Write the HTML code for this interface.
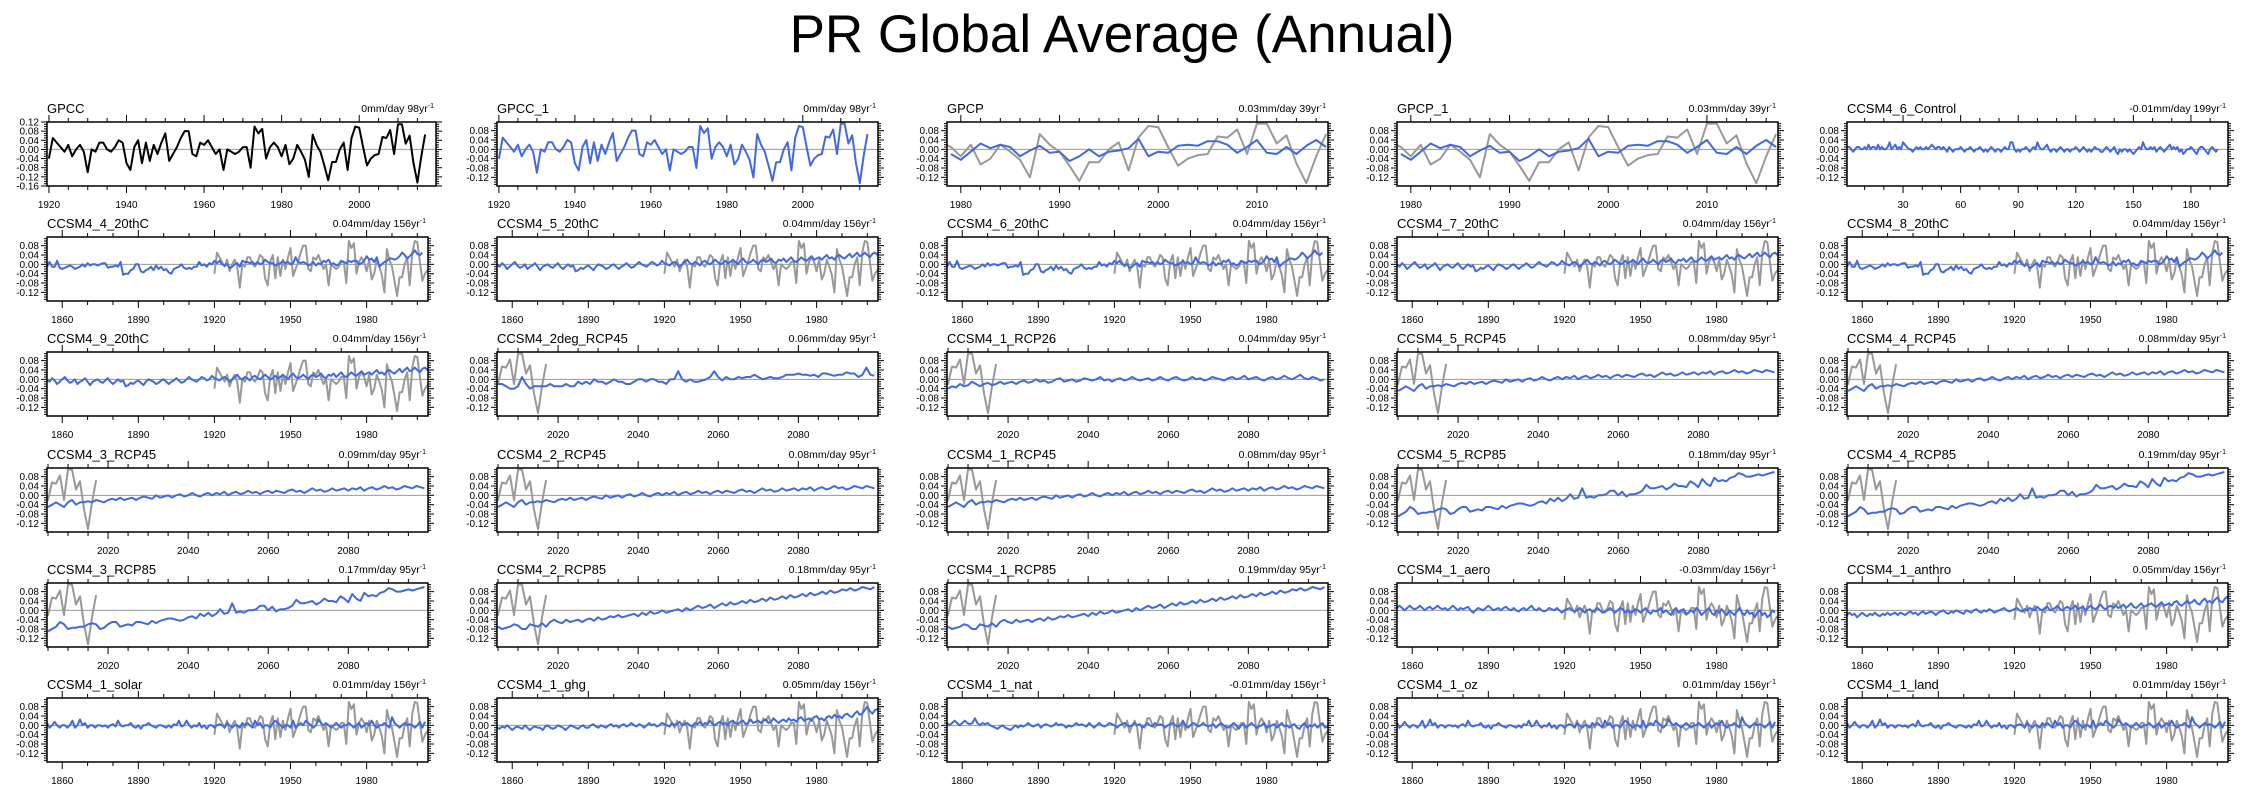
<!DOCTYPE html>
<html><head><meta charset="utf-8">
<style>
html,body{margin:0;padding:0;background:#fff;}
svg{display:block;font-family:"Liberation Sans",Arial,sans-serif;}
</style></head>
<body>
<svg id="chart" width="2245" height="793" viewBox="0 0 2245 793" xmlns="http://www.w3.org/2000/svg">
<text x="1122" y="52" text-anchor="middle" font-size="53" fill="#000">PR Global Average (Annual)</text>
</svg>
<script>
// ---- data (values in hundredths of mm/day) ----
const gpccObs = [-4,5,3,1,-1,2,-3,0,2,-1,-10,0,-1,3,3,0,-1,1,4,3,-6,-9,1,4,-6,3,-5,2,-2,3,7,-5,-2,1,5,8,8,-2,-3,3,2,4,1,-2,0,-9,0,-1,-2,-1,1,1,-8,10,7,9,-4,1,3,
1,-3,2,-6.5,-4,2,-1,-4.5,-12,6.5,2,-1,-7,-13.5,-5.5,-5.5,0,3,-9,5,10,9.5,1,-7,-4,-2.5,-2,5.5,5,8.5,-2,11,11,2.5,6,-6,-14.5,-3,6.5];
const gpcpBlue = [-2,-4.5,-1,2.5,0.5,2,1,-3,-0.5,1.5,-1.5,-1,-5,-3,0,-3,-1,-0.5,0.5,4.5,-3,-1,-1.5,1.5,2,1.5,3.5,3.5,2,-1.5,1,4,-1.5,-2,1,-2,1.5,4,1];
const t20a = [-1,1,-1,-1,1.5,-1.5,-2,-1.5,-1,-0.5,-1,-2,-1.5,-1,0,-1,0.5,-0.5,0,0,-0.5,0,0.5,0.5,-1.5,-1,-1,-0.5,-1,1,-4.5,-4,-4,-2.5,-2,0,0,-3,-3.5,-2.5,-2,-1,-2.5,-0.5,-2,-1,-2.5,-2,-3.5,-4,-2,-1.5,-1,0,-1.5,-2,-1.5,-2,-1,-1,1,-0.5,0,-1,0.5,0,1.5,0.5,1.5,0,-0.5,0,-1.5,-1,0,0.5,-1,1.5,1,1,0.5,1,0,1,0,0.5,2,1,0.5,0.5,-0.5,0,0.5,1.5,0.5,1,0,0.5,3,1,0.5,1,0.5,-0.5,0,1,-0.5,0.5,0,1.5,1,2,0,0.5,-0.5,0,1.5,1,0.5,1.5,1,1.5,1.5,0,0.5,1.5,3.5,2,2.5,1,3,-1,0,1,1.5,2.5,2.5,2,2.5,3.5,5,4,2.5,3.5,4.5,6,4.5,4,5];
const t20b = [0,-1,0.5,-0.5,-2,-1,0,1,-0.5,-1.5,-1,0,-2,-1,-0.5,0.5,-1,-2.5,-1,-0.5,0,-1,-1.5,-0.5,0.5,-1,-2,-1,0,-1,-0.5,-3,-2.5,-1.5,-2,-1,-0.5,-1.5,-2.5,-1,0,-0.5,-1,-2,-1.5,-0.5,0,-1,-2,-1,-0.5,0.5,-0.5,-1.5,-1,0,1,0,-0.5,-1,0,1,0.5,-0.5,0,1.5,0.5,0,-0.5,0.5,1,0,-1,0,1,2,0.5,0,1,0.5,-0.5,1,1.5,0.5,0,1,2,1,0,0.5,1.5,0.5,1,2,1,0,1.5,2.5,1,0.5,1,2,1,0,1.5,2,1,1.5,2.5,1,0.5,2,1.5,2.5,1,2,3,1.5,1,2,3,2,1.5,2.5,3.5,2,2.5,3,2,3,4,2.5,3,2,3.5,4,3,2.5,3.5,4.5,3,4,5,3.5,4,5,4,3,4.5,5,4];
const ctrl = [1,1,0,-1,0,1,1,0,0,1,0,2,0,1,1,0,2,0,1,0,0,1,3,0,1,2,0,1,0,3,2,1,0,0,-1,0,1,0,1,0,0,1,0,1,2,1,0,1,1,0,1,0,-1,1,0,-1,0,0,0,1,0,-1,0,0,1,0,-1,0,0,1,0,-1,0,-1,0,1,0,-1,0,0,-1,0,1,0,0,3,3,0,-1,0,-1,0,0,1,0,-1,0,1,0,3,1,0,0,1,2,0,-1,0,0,-1,0,1,0,-1,0,0,-1,0,0,1,0,-1,0,1,0,-1,0,-1,0,1,0,0,-1,-1,0,1,0,-1,0,1,-1,-2,0,-1,0,0,-1,0,-1,-2,-1,0,1,0,3,1,0,0,1,0,1,-1,0,1,0,-1,0,1,2,0,1,0,1,-1,0,-2,-1,0,0,1,0,-1,-2,0,1,1,0,-1,-2,0,1,0,-1,0];
const r26 = [-4,-3,-3.5,-2,-3,-2.5,-1,-2,-3,-2,-1.5,-2.5,-2,-1,-2,-1.5,-1,-2,-1,-0.5,-1.5,-1,0,-1,-0.5,-1.5,-1,0,0.5,-1,-0.5,0,-1,-0.5,0.5,0,-0.5,0,1,-0.5,0,-1,0,0.5,-0.5,0,1,0,-0.5,0,0.5,-0.5,0,1,0,-0.5,0.5,1,0,-0.5,0,1,0,0.5,-0.5,0,1,0.5,0,-0.5,0.5,1,0,0.5,1.5,0,0.5,1,0,-0.5,0.5,1,0,0.5,1.5,0.5,0,1,2,0.5,0,1,0.5,-0.5,0];
const r45a = [-2,-2,-3,-4,-4,-3,1,-2,-4,-3,-3,-3,-3,-2,-3,-3,-3,-2,-3,-3,-1,-2,-1,-2,0,-1,-1,-2,-1,0,-1,-1,-2,-2,-1,0,0,-1,0,0,-1,-1,-2,0,0,3.5,0,-1,0,-1,-1,-0.5,0,1,3.5,1,-0.5,1,0,0,1,0.5,1,1,2,1,0,0.5,1,0.5,0.5,1,2,2,2,2.5,2,2,1.5,2,1,2.5,2.5,2,1.5,2,2,3,2.5,2.5,1,2,5,2,1.5];
const r45b = [-5,-4,-3,-4,-5,-3,-2,-4,-3,-3,-2.5,-3,-2,-2.5,-3,-2,-1.5,-2,-1,-2,-1.5,-1,-2,-1,-0.5,-1,-1.5,0,-1,-0.5,0,-1,0,0.5,-0.5,0,1,0,-0.5,0.5,1,0,1,0.5,1.5,0,1,1.5,0.5,1,2,1,1.5,0.5,1.5,2,1,2,1.5,1,2,2.5,1.5,2,1,2,3,2,2.5,1.5,2,3,2,2.5,3,2,3,2.5,3.5,2,3,3.5,2.5,3,4,3,3.5,2.5,3,4,3.5,3,4,3.5,3];
const r85a = [-9,-8,-7,-5,-6,-8,-7.5,-7.5,-7,-7,-6,-5.5,-6,-8,-7.5,-6,-5,-5,-7,-6.5,-6,-6.5,-5,-5,-5.5,-6,-4.5,-5.5,-4.5,-4,-3.5,-3.5,-4,-4.5,-4,-3,-2.5,-3.5,-1.5,-2.5,-1,-2.5,-1.5,0.5,-1.5,-1,3,-1,-0.5,-1,0,0,0.5,2,2,0,1.5,-0.5,0.5,0.5,1,2,4.5,3,3,3.5,4,2.5,3.5,5,4,4,3.5,6,5,3.5,7,5,4,7.5,6,6.5,6,7.5,8,9.5,9,8,8,8.5,9,8.5,9,9.5,10];
const r85b = [-7,-8,-7.5,-7,-6,-6.5,-8,-8,-6,-6.5,-7,-5.5,-7,-5,-4,-5,-5.5,-4,-5,-4.5,-4,-5,-4,-3.5,-4.5,-3,-4,-3.5,-2.5,-3,-2,-3,-2.5,-2,-1.5,-2.5,-1,-2,-0.5,-1.5,-1,0,-1,-0.5,0,0.5,-0.5,1,0,1,2,1,1.5,2.5,1,2,3,2,3.5,2.5,3,4,3,4.5,3.5,4,5,4,5.5,4.5,5,6,5,6.5,5.5,6,7,6,7.5,6.5,7,8,7,8.5,7.5,8,9,8.5,9.5,8.5,9,10,9.5,9,10];
const aero = [1,2,1,0,1,2,1,0.5,1,2,1,0,1,1.5,0.5,1,2,1,0.5,1,0,1,2,1,0,1,0.5,1,1.5,0,-1,0,1,0.5,0,1,2,1,0,0.5,1,0,1,1.5,0.5,0,1,0,-0.5,0.5,1,0,1,2,0.5,0,1,0,-0.5,0,1,0.5,0,1,0,-1,0,0.5,1,0,-0.5,0,1,0,-1,0,0.5,-0.5,0,1,0,-1,-0.5,0,1,0,-1,0,1,0.5,-1,0,-1,-0.5,0.5,0,-1,0,1,-0.5,-1.5,0,-0.5,0,1,-1,0,-1,-2,0,1,-1,0,0.5,-1.5,-1,0,-1,1,0,-2,-1,0,1,-1,-2,0,-1,0.5,-1,-2,0,-1,-2,-0.5,1,-1,-2,0,-1.5,-1,-3,-1,0,-2,-1,-3,-2,0,-1];
const anthro = [-2,-1,-2,-1.5,-3,-2,-1,-2,-2.5,-1.5,-2,-1,-2,-2.5,-1.5,-2,-1,-2,-1.5,-1,-2,-1,-1.5,-2,-1,-0.5,-1.5,-1,-2,-1,-0.5,-1.5,-1,-0.5,-1,-2,-1,-0.5,0,-1,-1.5,-0.5,-1,0,-0.5,-1,-1.5,0,-0.5,-1,0,0.5,-0.5,-1,0,-0.5,0.5,0,-1,-0.5,0,0.5,1,0,-0.5,0,0.5,1,0,-0.5,0.5,0,1,0.5,0,1.5,0.5,0,1,1.5,0,0.5,1,2,0.5,0,1,1.5,0.5,1,2,0.5,1,1.5,0,1,2,1,0.5,1.5,2.5,1,0.5,1.5,2,1,2,1,1.5,2.5,1,2,3,1.5,1,2,3,1.5,2,2.5,3,2,1.5,2.5,3.5,2,2.5,3,2,3.5,4,2.5,2,3,4,3,3.5,4.5,3,2.5,4,5,3.5,4,3,4.5,5.5,4,3.5,5,6];
const solar = [1,-1,0,1.5,0,-1,0,0,-1,0,2,-1,0,2.5,0,1,-1,0,0,-1,0,0,-0.5,0,-1,0,0.5,-0.5,2,0,-0.5,0,0,1,-0.5,-1,0,-1.5,0,0,1,0,-0.5,-1,0,0,-0.5,-1,0,-1,0.5,0,2,-0.5,0,2,0,-1,0,-0.5,1,-1,0,-1.5,0,0,-1,0,0.5,0,-1,1,0,-1,0,0,-1,1,0,1,0,-1,2,0,1,-1,0,0,-1,1,2,1,0,-1,0,0,-1,2,-1,0,1,0,2,1,0,-1,0,2.5,1,0,1,0,-1,0,1,0,-1,0,0,1,0,-1,0,1,-1,0,1,0,2,0,-1,0,0,1,0,-1,3.5,1,0,-1,0,1,0,0.5,0,-1,0,1.5,-1,1.5];
const ghg = [-1,-1.5,-0.5,-1,0,-1,-2,-1,-0.5,-1,-1.5,0,-1,-2,-1,-0.5,-1,-1,-2,-0.5,0,-1,-1.5,-1,0,-0.5,-1,-2,-1,0,-0.5,-1,-1.5,-0.5,0,-1,-1,0,0.5,-0.5,-1,0,-0.5,-1,0,0.5,-0.5,0,-1,0,0.5,-0.5,0,1,0,-0.5,0.5,0,-1,0,1,0,0.5,-0.5,0,1,0.5,0,-0.5,1,0,0.5,1.5,0,0.5,1,0,-0.5,1,0.5,1.5,0,1,0.5,2,0.5,0,1,1.5,0.5,1,0,1.5,2,1,0.5,1.5,2,0.5,1,2.5,1,1.5,2,1,2,2.5,1,1.5,3,2,1,2,2.5,1.5,3,2,2.5,1.5,3,3.5,2,2.5,3,2,3.5,4,2.5,3,2,3.5,4,3,4.5,3.5,4,3,4.5,5,4,3.5,5,6,4.5,5,6.5,8,6,5,6.5,7];
const nat = [1,0,1,2,1,0,1,2,1,0.5,1,3,1,0,1,0.5,1,0,-0.5,-1,-1.5,-0.5,0,-1,-1.5,-2,-1,0,-1,0,-0.5,0,1,0,-0.5,0,0.5,-1,0,0.5,0,-0.5,0,1,0,0.5,0,-1,0,-0.5,0,1,0,0.5,0,-0.5,1,0,-1,0,1,0,-0.5,0,1,0.5,0,-1,0,0.5,1,0,-0.5,0,1,0,0.5,-1,0,1,0,-0.5,1,0,0.5,0,-1,0,0.5,1,0,-0.5,0,2,0,-1,0,1,0.5,-0.5,0,1,0,-0.5,0,0.5,-1,0,1,0,-0.5,-1,0,1,0,-1.5,0,0.5,-1,0,1,0,-1,-0.5,0,1,-1,-0.5,0,0.5,-1,0,1,-0.5,0,-1,0,0.5,-1,-1.5,0,1,-1,0,-0.5,0.5,-1,0,1,-1,-0.5];

const panelTitles = ["GPCC","GPCC_1","GPCP","GPCP_1","CCSM4_6_Control",
"CCSM4_4_20thC","CCSM4_5_20thC","CCSM4_6_20thC","CCSM4_7_20thC","CCSM4_8_20thC",
"CCSM4_9_20thC","CCSM4_2deg_RCP45","CCSM4_1_RCP26","CCSM4_5_RCP45","CCSM4_4_RCP45",
"CCSM4_3_RCP45","CCSM4_2_RCP45","CCSM4_1_RCP45","CCSM4_5_RCP85","CCSM4_4_RCP85",
"CCSM4_3_RCP85","CCSM4_2_RCP85","CCSM4_1_RCP85","CCSM4_1_aero","CCSM4_1_anthro",
"CCSM4_1_solar","CCSM4_1_ghg","CCSM4_1_nat","CCSM4_1_oz","CCSM4_1_land"];
const panelTrends = ["0mm/day 98yr","0mm/day 98yr","0.03mm/day 39yr","0.03mm/day 39yr","-0.01mm/day 199yr",
"0.04mm/day 156yr","0.04mm/day 156yr","0.04mm/day 156yr","0.04mm/day 156yr","0.04mm/day 156yr",
"0.04mm/day 156yr","0.06mm/day 95yr","0.04mm/day 95yr","0.08mm/day 95yr","0.08mm/day 95yr",
"0.09mm/day 95yr","0.08mm/day 95yr","0.08mm/day 95yr","0.18mm/day 95yr","0.19mm/day 95yr",
"0.17mm/day 95yr","0.18mm/day 95yr","0.19mm/day 95yr","-0.03mm/day 156yr","0.05mm/day 156yr",
"0.01mm/day 156yr","0.05mm/day 156yr","-0.01mm/day 156yr","0.01mm/day 156yr","0.01mm/day 156yr"];
const panelKinds = ["gpcc","gpcc1","gpcp","gpcp","ctrl",
"t20","t20","t20","t20","t20","t20","rcp","rcp","rcp","rcp","rcp","rcp","rcp","rcp","rcp",
"rcp","rcp","rcp","t20","t20","t20","t20","t20","t20","t20"];
const panelSeries = [null,gpccObs,gpcpBlue,gpcpBlue,ctrl,
t20a,t20b,t20a,t20b,t20a,t20b,r45a,r26,r45b,r45b,r45b,r45b,r45b,r85a,r85a,
r85a,r85b,r85b,aero,anthro,solar,ghg,nat,solar,solar];
const yTickLabels = ["0.08","0.04","0.00","-0.04","-0.08","-0.12"];
const yTickLabelsGpcc = ["0.12","0.08","0.04","0.00","-0.04","-0.08","-0.12","-0.16"];

// ---- layout ----
const NS="http://www.w3.org/2000/svg";
const svg=document.getElementById('chart');
const colX=[47,497,947,1397,1847], boxW=381, boxH=64;
const kinds={
 gpcc:{x0:1919.5,x1:2019.8,start:1920,major:20,minor:5,y0:-0.16,y1:0.12},
 gpcc1:{x0:1919.5,x1:2019.8,start:1920,major:20,minor:5,y0:-0.157,y1:0.117},
 gpcp:{x0:1978.6,x1:2017.2,start:1979,major:10,minor:2,y0:-0.157,y1:0.117},
 ctrl:{x0:0.8,x1:199.3,start:1,major:30,minor:10,y0:-0.157,y1:0.117},
 t20:{x0:1854,x1:2004.2,start:1854,major:30,minor:10,y0:-0.157,y1:0.117},
 rcp:{x0:2004.75,x1:2099.9,start:2005,major:20,minor:5,y0:-0.157,y1:0.117}
};
function el(tag,attrs,parent){const e=document.createElementNS(NS,tag);for(const k in attrs)e.setAttribute(k,attrs[k]);(parent||svg).appendChild(e);return e;}

panelTitles.forEach((title,i)=>{
 const r=Math.floor(i/5), c=i%5, k=kinds[panelKinds[i]];
 const L=colX[c], T=Math.round(122+115.2*r), w=(i===0?389:boxW), R=L+w, B=T+boxH;
 const xs=v=>L+(v-k.x0)/(k.x1-k.x0)*w;
 const ys=v=>T+(k.y1-v)/(k.y1-k.y0)*boxH;
 const g=el('g',{});
 
 
 const cp=el('clipPath',{id:'cp'+i},g);
 el('rect',{x:L,y:T,width:w,height:boxH},cp);
 const t=el('text',{x:L,y:T-9,'font-size':13,fill:'#000'},g);
 t.textContent=title;
 
 
 const tr=el('text',{x:R-2,y:T-10,'font-size':10.5,fill:'#000','text-anchor':'end'},g);
 
 
 tr.appendChild(document.createTextNode(panelTrends[i]));
 const sup=el('tspan',{'font-size':7,dy:-4},tr); sup.textContent='-1';
 const labs=(i===0?yTickLabelsGpcc:yTickLabels);
 for(let v=Math.ceil(k.y0*100);v<=Math.floor(k.y1*100);v++){
  const yy=ys(v/100), major=(v%4===0), len=major?6:3;
  el('line',{x1:L-len,x2:L,y1:yy,y2:yy,stroke:'#000','stroke-width':1},g);
  el('line',{x1:R,x2:R+len,y1:yy,y2:yy,stroke:'#000','stroke-width':1},g);
 }
 labs.forEach(s=>{
  const tl=el('text',{x:L-8,y:ys(parseFloat(s))+3.5,'font-size':10,'text-anchor':'end',fill:'#000'},g);
  tl.textContent=s;
  
  
 });
 for(let v=Math.ceil(k.x0/k.minor)*k.minor; v<=k.x1; v+=k.minor){
  const xx=xs(v), major=(v%k.major===0), len=major?7:4;
  el('line',{x1:xx,x2:xx,y1:T-len,y2:T,stroke:'#000','stroke-width':1},g);
  el('line',{x1:xx,x2:xx,y1:B,y2:B+len,stroke:'#000','stroke-width':1},g);
  if(major){
   const xl=el('text',{x:xx,y:B+22,'font-size':10,'text-anchor':'middle',fill:'#000'},g);
   xl.textContent=String(v);
   
   
  }
 }
 const z=el('line',{x1:L,x2:R,y1:ys(0),y2:ys(0),stroke:'#999','stroke-width':1},g);
 
 
 const plot=el('g',{'clip-path':'url(#cp'+i+')'},g);
 function line(arr,start,color,name){
  const pts=arr.map((v,j)=>xs(start+j).toFixed(1)+','+ys(v/100).toFixed(1)).join(' ');
  const p=el('polyline',{points:pts,fill:'none',stroke:color,'stroke-width':2,'stroke-linejoin':'round'},plot);
  
  
 }
 if(i===0){ line(gpccObs,1920,'#000','gpcc-series'); }
 else if(panelKinds[i]==='gpcc1'){ line(gpccObs,1920,'#4169e1','model-series'); }
 else {
  if(panelKinds[i]!=='ctrl') line(gpccObs,1920,'#999','observed-series');
  line(panelSeries[i],k.start,'#4169e1','model-series');
 }
 const fr=el('rect',{x:L,y:T,width:w,height:boxH,fill:'none',stroke:'#000','stroke-width':1.5},g);
 
 
});
</script>
</body></html>
